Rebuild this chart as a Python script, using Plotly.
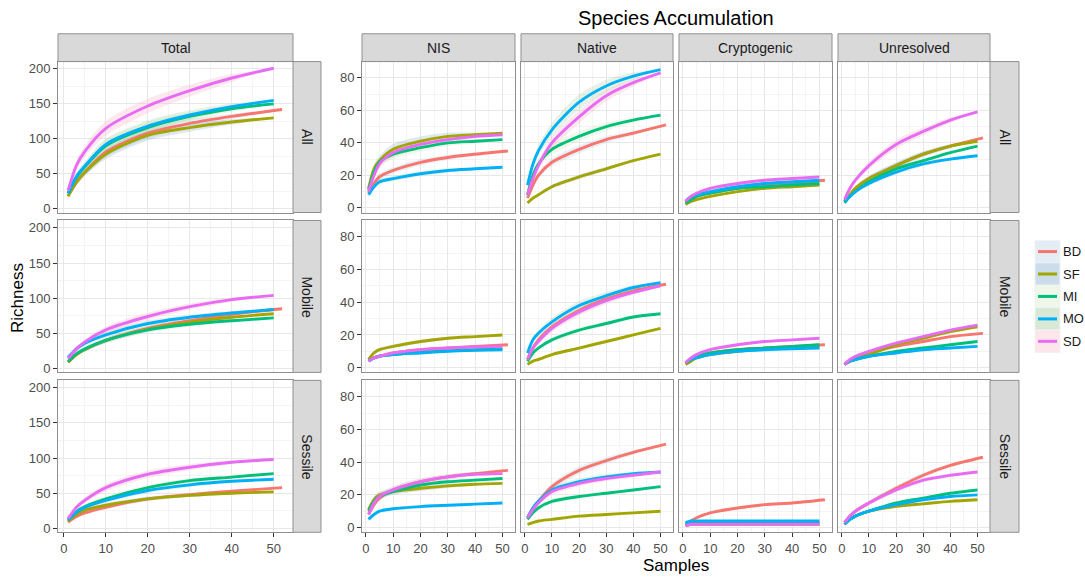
import plotly.graph_objects as go

# ---------------------------------------------------------------- data
SERIES = ["BD", "SF", "MI", "MO", "SD"]
COLUMNS = ["Total", "NIS", "Native", "Cryptogenic", "Unresolved"]
ROWS = ["All", "Mobile", "Sessile"]

SAMPLES = [1, 3, 5, 10, 20, 30, 40, 50]
SAMPLES_BD = [1, 3, 5, 10, 20, 30, 40, 52]

TOTAL_ALL = {
    "BD": [18, 38, 52, 81, 108, 122, 132, 142],
    "SF": [18, 38, 52, 78, 105, 116, 124, 130],
    "MI": [22, 45, 60, 90, 116, 132, 143, 150],
    "MO": [22, 46, 61, 92, 118, 134, 146, 155],
    "SD": [26, 62, 82, 115, 147, 169, 187, 201],
}
TOTAL_MOBILE = {
    "BD": [9, 20, 27, 40, 57, 68, 77, 85],
    "SF": [9, 20, 27, 40, 56, 66, 73, 78],
    "MI": [10, 21, 28, 40, 55, 63, 68, 72],
    "MO": [16, 28, 36, 48, 64, 73, 79, 84],
    "SD": [14, 28, 38, 55, 74, 88, 98, 104],
}
TOTAL_SESSILE = {
    "BD": [9, 17, 22, 30, 42, 48, 53, 58],
    "SF": [10, 20, 26, 33, 42, 47, 50, 52],
    "MI": [12, 24, 31, 42, 58, 68, 73, 78],
    "MO": [12, 23, 30, 40, 54, 62, 67, 70],
    "SD": [14, 30, 40, 58, 77, 87, 94, 98],
}
NIS_ALL = {
    "BD": [9, 15, 19, 23, 28, 31, 33, 35],
    "SF": [12, 24, 29, 36, 41, 44, 45, 46],
    "MI": [11, 22, 28, 33, 37, 40, 41, 42],
    "MO": [8, 13, 16, 18, 21, 23, 24, 25],
    "SD": [10, 20, 27, 34, 39, 42, 44, 45],
}
NATIVE_ALL = {
    "BD": [6, 14, 20, 28, 36, 42, 46, 51],
    "SF": [3, 6, 8, 13, 19, 24, 29, 33],
    "MI": [8, 20, 27, 36, 44, 50, 54, 57],
    "MO": [14, 27, 35, 48, 65, 75, 81, 85],
    "SD": [8, 18, 26, 40, 56, 69, 77, 83],
}
CRYPTO_ALL = {
    "BD": [3, 5, 7, 9, 12, 14, 15, 17],
    "SF": [2, 4, 5, 7, 10, 12, 13, 14],
    "MI": [3, 5, 7, 9, 12, 13, 14, 15],
    "MO": [4, 7, 8, 10, 13, 15, 16, 17],
    "SD": [4, 7, 9, 12, 15, 17, 18, 19],
}
UNRES_ALL = {
    "BD": [4, 8, 12, 18, 26, 33, 38, 43],
    "SF": [4, 8, 12, 18, 26, 33, 38, 41],
    "MI": [3, 7, 10, 16, 24, 29, 34, 38],
    "MO": [4, 7, 10, 15, 22, 27, 30, 32],
    "SD": [5, 12, 17, 26, 39, 47, 54, 59],
}
NIS_MOBILE = {
    "BD": [4, 6, 7, 9, 11, 12, 13, 14],
    "SF": [5, 9, 11, 13, 16, 18, 19, 20],
    "MI": [4, 6, 7, 8, 9.5, 10.3, 11, 11.5],
    "MO": [4, 6, 7, 8, 9, 10, 10.6, 11],
    "SD": [4, 6, 7, 9, 11, 12, 12.6, 13],
}
NATIVE_MOBILE = {
    "BD": [5, 12, 17, 25, 35, 42, 47, 51],
    "SF": [2, 4, 5, 8, 12, 16, 20, 24],
    "MI": [4, 9, 12, 17, 23, 27, 31, 33],
    "MO": [9, 17, 21, 28, 38, 44, 49, 52],
    "SD": [5, 12, 16, 24, 34, 41, 46, 50],
}
CRYPTO_MOBILE = {
    "BD": [3, 5, 7, 9, 11, 12, 13, 14],
    "SF": [2, 4, 6, 8, 10, 11.5, 12.5, 13],
    "MI": [3, 5, 7, 9, 11, 12, 13, 14],
    "MO": [3, 5, 6, 8, 10, 11, 11.6, 12],
    "SD": [3, 6, 8, 11, 14, 16, 17, 18],
}
UNRES_MOBILE = {
    "BD": [2, 4, 6, 9, 13, 16, 19, 21],
    "SF": [2, 4, 5, 8, 14, 18, 22, 25],
    "MI": [2, 4, 5, 7, 10, 12, 14, 16],
    "MO": [2, 4, 5, 7, 9, 11, 12, 13],
    "SD": [2, 5, 7, 10, 15, 19, 23, 26],
}
NIS_SESSILE = {
    "BD": [8, 14, 18, 23, 28, 31, 33, 35],
    "SF": [11, 17, 20, 22, 24, 25.5, 26.5, 27],
    "MI": [10, 16, 19, 22, 26, 28, 29, 30],
    "MO": [5, 8, 10, 11.5, 12.8, 13.6, 14.3, 15],
    "SD": [8, 15, 19, 23, 28, 31, 32.5, 33],
}
NATIVE_SESSILE = {
    "BD": [6, 12, 16, 25, 35, 41, 46, 51],
    "SF": [2, 3, 4, 5, 7, 8, 9, 10],
    "MI": [5, 9, 12, 16, 19, 21, 23, 25],
    "MO": [6, 12, 16, 23, 28, 31, 33, 34],
    "SD": [6, 11, 15, 22, 27, 30, 32, 34],
}
CRYPTO_SESSILE = {
    "BD": [2, 4, 6, 9, 12, 14, 15, 17],
    "SF": [1, 2, 2, 2, 2, 2, 2, 2],
    "MI": [2, 3, 3, 3, 3, 3, 3, 3],
    "MO": [3, 4, 4, 4, 4, 4, 4, 4],
    "SD": [1, 2, 2, 2, 2, 2, 2, 2],
}
UNRES_SESSILE = {
    "BD": [3, 7, 10, 15, 24, 32, 38, 43],
    "SF": [2, 5, 7, 10, 13, 14.5, 16, 17],
    "MI": [2, 5, 7, 10, 15, 18, 21, 23],
    "MO": [2, 5, 7, 10, 14, 17, 19, 20],
    "SD": [3, 7, 10, 15, 23, 29, 32, 34],
}

# relative half-width of the shaded band around each curve
RIBBON_FRAC = [0.15, 0.12, 0.10, 0.09, 0.07, 0.05, 0.03, 0.0]

PANELS = {
    ("Total", "All"): TOTAL_ALL, ("Total", "Mobile"): TOTAL_MOBILE, ("Total", "Sessile"): TOTAL_SESSILE,
    ("NIS", "All"): NIS_ALL, ("NIS", "Mobile"): NIS_MOBILE, ("NIS", "Sessile"): NIS_SESSILE,
    ("Native", "All"): NATIVE_ALL, ("Native", "Mobile"): NATIVE_MOBILE, ("Native", "Sessile"): NATIVE_SESSILE,
    ("Cryptogenic", "All"): CRYPTO_ALL, ("Cryptogenic", "Mobile"): CRYPTO_MOBILE,
    ("Cryptogenic", "Sessile"): CRYPTO_SESSILE,
    ("Unresolved", "All"): UNRES_ALL, ("Unresolved", "Mobile"): UNRES_MOBILE,
    ("Unresolved", "Sessile"): UNRES_SESSILE,
}

# ---------------------------------------------------------------- style
LINE_COLORS = {"BD": "#F8766D", "SF": "#A3A500", "MI": "#00BF7D", "MO": "#00B0F6", "SD": "#E76BF3"}
RIBBON_COLORS = {
    "BD": "rgba(150,190,225,0.22)", "SF": "rgba(100,150,200,0.22)", "MI": "rgba(200,230,180,0.28)",
    "MO": "rgba(150,205,150,0.25)", "SD": "rgba(248,180,195,0.30)",
}
KEY_COLORS = {"BD": "#E4EDF5", "SF": "#CBDCEB", "MI": "#EFF6EA", "MO": "#D7E9D6", "SD": "#FDE6EA"}
FONT = "Liberation Sans, Arial, sans-serif"

W, H = 1085, 581
COL_X = [(58, 293), (362, 515), (521, 673), (679, 832), (838, 990)]
ROW_Y = [(62, 214), (222, 375), (383, 536)]
STRIP_TOP = (34, 62)
STRIP_RIGHT = {0: (293, 321), 4: (990, 1019)}


def px(x):
    return x / W


def py(y):
    return 1 - y / H


def label(x, y, text, size, color="#1A1A1A", angle=0, xanchor="center"):
    return dict(xref="paper", yref="paper", x=px(x), y=py(y), text=text, showarrow=False,
                xanchor=xanchor, yanchor="middle", textangle=angle,
                font=dict(family=FONT, size=size, color=color))


fig = go.Figure()
layout = {}
shapes = []
annotations = []

for r, row in enumerate(ROWS):
    for c, col in enumerate(COLUMNS):
        k = r * 5 + c + 1
        xa = "x" if k == 1 else f"x{k}"
        ya = "y" if k == 1 else f"y{k}"
        data = PANELS[(col, row)]
        for s in SERIES:
            xs = SAMPLES_BD if s == "BD" else SAMPLES
            ys = data[s]
            up = [v * (1 + f) for v, f in zip(ys, RIBBON_FRAC)]
            lo = [v * (1 - f) for v, f in zip(ys, RIBBON_FRAC)]
            fig.add_trace(go.Scatter(
                x=xs + xs[::-1], y=up + lo[::-1], mode="lines", fill="toself",
                fillcolor=RIBBON_COLORS[s], line=dict(width=0, shape="spline", smoothing=0.8),
                xaxis=xa, yaxis=ya, showlegend=False, hoverinfo="skip"))
        for s in SERIES:
            xs = SAMPLES_BD if s == "BD" else SAMPLES
            fig.add_trace(go.Scatter(
                x=xs, y=data[s], mode="lines", name=s,
                line=dict(color=LINE_COLORS[s], width=2.9, shape="spline", smoothing=0.8),
                xaxis=xa, yaxis=ya, showlegend=False))

        x0, x1 = COL_X[c]
        y0, y1 = ROW_Y[r]
        bottom = r == 2
        left = c in (0, 1)
        common = dict(
            showline=True, mirror=True, linecolor="#8F8F8F", linewidth=1,
            showgrid=True, gridcolor="#E8E8E8", gridwidth=1, zeroline=False,
            tickfont=dict(family=FONT, size=13, color="#4D4D4D"),
            ticklen=4, tickcolor="#333333", tickwidth=1, fixedrange=True,
        )
        layout["xaxis" if k == 1 else f"xaxis{k}"] = dict(
            common, domain=[px(x0), px(x1)], anchor=ya, range=[-1.4, 54.6],
            tickmode="linear", tick0=0, dtick=10,
            minor=dict(dtick=5, tick0=0, showgrid=True, gridcolor="#F4F4F4", gridwidth=0.6),
            ticks="outside" if bottom else "", showticklabels=bottom)
        if c == 0:
            yr, ydt = [-5.5, 210.5], 50
        else:
            yr, ydt = [-2.9, 90.0], 20
        layout["yaxis" if k == 1 else f"yaxis{k}"] = dict(
            common, domain=[py(y1), py(y0)], anchor=xa, range=yr,
            tickmode="linear", tick0=0, dtick=ydt,
            minor=dict(dtick=ydt / 2, tick0=0, showgrid=True, gridcolor="#F4F4F4", gridwidth=0.6),
            ticks="outside" if left else "", showticklabels=left)

# column strips
for c, col in enumerate(COLUMNS):
    x0, x1 = COL_X[c]
    shapes.append(dict(type="rect", xref="paper", yref="paper",
                       x0=px(x0), x1=px(x1), y0=py(STRIP_TOP[1]), y1=py(STRIP_TOP[0]),
                       fillcolor="#D9D9D9", line=dict(color="#8F8F8F", width=1)))
    annotations.append(label((x0 + x1) / 2, (STRIP_TOP[0] + STRIP_TOP[1]) / 2, col, 14))

# row strips
for c, (sx0, sx1) in STRIP_RIGHT.items():
    for r, row in enumerate(ROWS):
        y0, y1 = ROW_Y[r]
        shapes.append(dict(type="rect", xref="paper", yref="paper",
                           x0=px(sx0), x1=px(sx1), y0=py(y1), y1=py(y0),
                           fillcolor="#D9D9D9", line=dict(color="#8F8F8F", width=1)))
        annotations.append(label((sx0 + sx1) / 2, (y0 + y1) / 2, row, 14, angle=90))

# legend keys
KEY_X = (1035, 1060)
KEY_TOP, KEY_H = 242, 22.6
for i, s in enumerate(SERIES):
    t = KEY_TOP + i * KEY_H
    shapes.append(dict(type="rect", xref="paper", yref="paper",
                       x0=px(KEY_X[0]), x1=px(KEY_X[1]), y0=py(t + KEY_H), y1=py(t),
                       fillcolor=KEY_COLORS[s], line=dict(color="#F2F2F2", width=1)))
    shapes.append(dict(type="line", xref="paper", yref="paper",
                       x0=px(KEY_X[0] + 3), x1=px(KEY_X[1] - 3),
                       y0=py(t + KEY_H / 2), y1=py(t + KEY_H / 2),
                       line=dict(color=LINE_COLORS[s], width=3)))
    annotations.append(label(KEY_X[1] + 1, t + KEY_H / 2, s, 13, xanchor="left"))

# titles
annotations.append(label(676, 18, "Species Accumulation", 20, color="#000000"))
annotations.append(label(676, 569, "Samples", 17, color="#000000"))
annotations.append(label(18, 300, "Richness", 17, color="#000000", angle=-90))

fig.update_layout(
    width=W, height=H, autosize=False,
    margin=dict(l=0, r=0, t=0, b=0, pad=0),
    paper_bgcolor="white", plot_bgcolor="white",
    font=dict(family=FONT),
    showlegend=False,
    shapes=shapes, annotations=annotations,
    **layout,
)

fig.write_html("out.html")
